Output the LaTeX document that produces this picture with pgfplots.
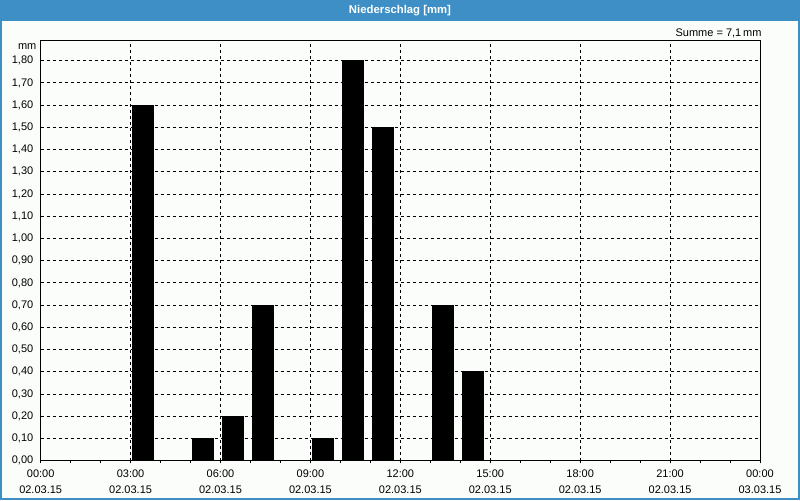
\documentclass[border=0pt]{standalone}
\usepackage{pgfplots}
\pgfplotsset{compat=1.18}
\usepackage{fontspec}
\setmainfont{Liberation Sans}
\definecolor{framebl}{HTML}{3D8FC6}
\definecolor{bgwhite}{HTML}{FBFDFB}

% 1px = 0.75pt, picture is 800 x 500 px
\begin{document}
\begin{tikzpicture}
  \fill[bgwhite] (0,0) rectangle (600pt,-375pt);
  \fill[framebl] (0,0) rectangle (600pt,-15.5pt);
  \draw[framebl, line width=1.2pt] (0.6pt,-0.6pt) rectangle (599.4pt,-374.4pt);
  \node[text=white, font=\bfseries\fontsize{8.5}{10}\selectfont] at (300pt,-7.6pt) {Niederschlag [mm]};

  \begin{axis}[
    at={(30.5pt,-345.5pt)}, anchor=south west,
    scale only axis,
    width=539.5pt, height=314.8pt,
    xmin=0, xmax=24,
    ymin=0, ymax=1.889,
    xtick={0,3,...,24},
    xticklabels={{00:00\\02.03.15},{03:00\\02.03.15},{06:00\\02.03.15},{09:00\\02.03.15},{12:00\\02.03.15},{15:00\\02.03.15},{18:00\\02.03.15},{21:00\\02.03.15},{00:00\\03.03.15}},
    minor x tick num=2,
    ytick={0,0.1,...,1.85},
    xtick pos=bottom, ytick pos=left,
    tick align=outside,
    xtick style={black, line width=0.75pt},
    major tick length=2pt, minor tick length=2pt,
    ytick style={draw=none},
    grid=major,
    major grid style={black, line width=0.75pt, dash pattern=on 2.25pt off 2.25pt},
    axis line style={black, line width=0.75pt},
    font=\fontsize{8.25}{12}\selectfont,
    xticklabel style={align=center, yshift=-1pt},
    yticklabel style={/pgf/number format/.cd, fixed, fixed zerofill, precision=2, use comma, assume math mode=true},
    /pgf/number format/assume math mode=true,
    clip=false,
  ]
    \addplot[ybar, bar width=0.7, bar shift=0, fill=black, draw=black, line width=0pt] coordinates {
      (3.42, 1.6)
      (5.42, 0.1)
      (6.42, 0.2)
      (7.42, 0.7)
      (9.42, 0.1)
      (10.42, 1.8)
      (11.42, 1.5)
      (13.42, 0.7)
      (14.42, 0.4)
    };
    \node[anchor=east, inner sep=0pt] at (rel axis cs:0,1) [xshift=-3pt, yshift=-4.3pt] {mm};
    \node[anchor=east, inner sep=0pt] at (rel axis cs:1,1) [xshift=1.3pt, yshift=6pt] {Summe = 7,1\,mm};
  \end{axis}
\end{tikzpicture}
\end{document}
